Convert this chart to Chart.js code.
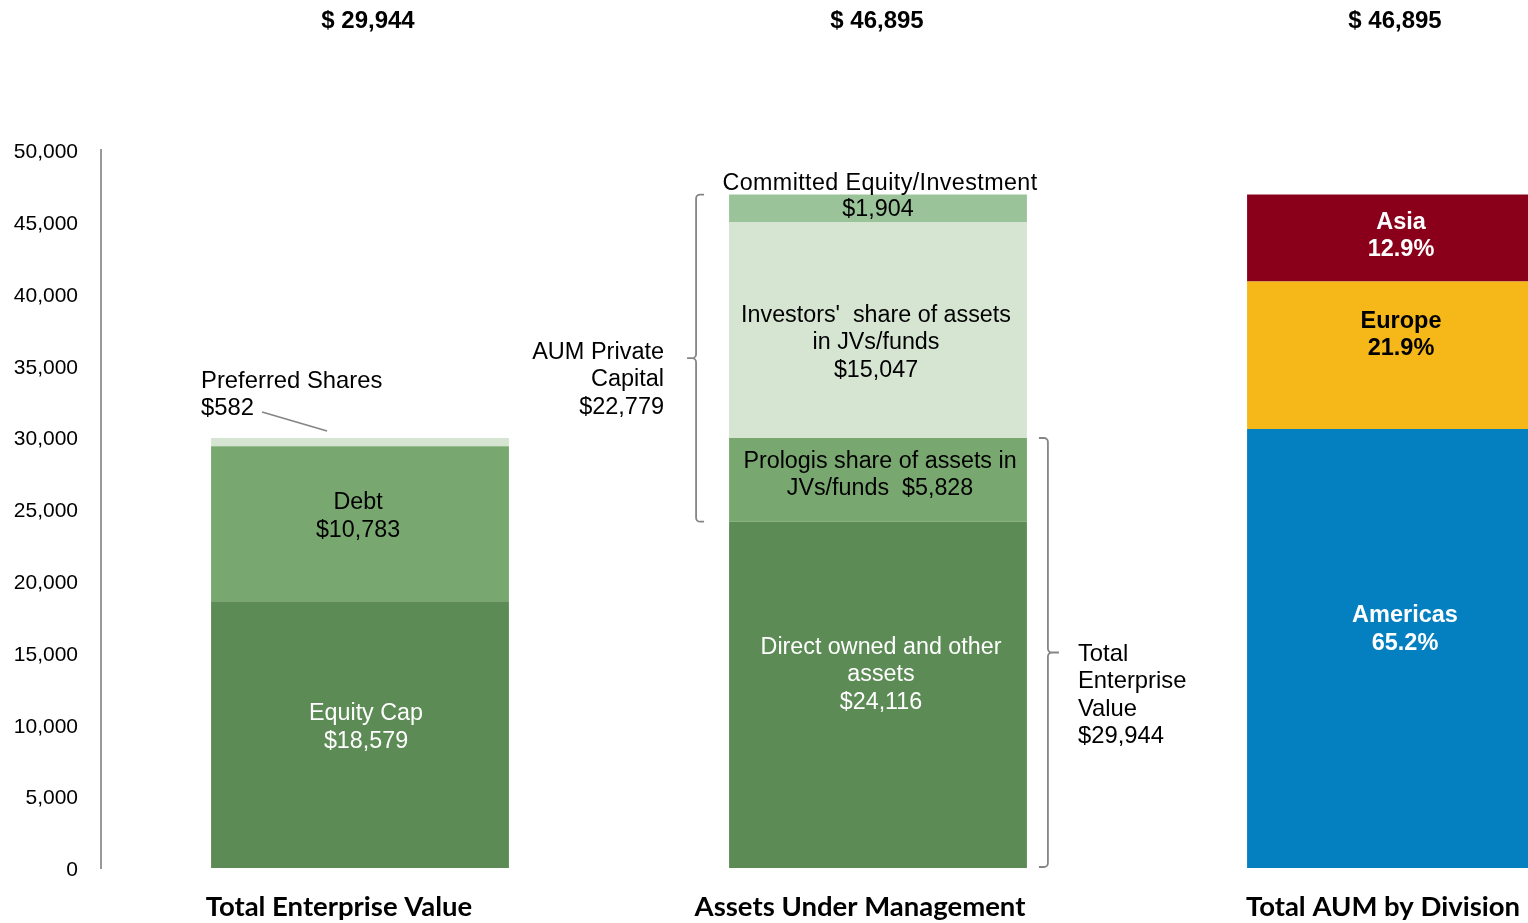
<!DOCTYPE html>
<html>
<head>
<meta charset="utf-8">
<script src="https://cdn.jsdelivr.net/npm/chart.js@4.4.1/dist/chart.umd.min.js"></script>
<style>
  html, body { margin: 0; padding: 0; background: #fff; overflow: hidden; }
  #wrap { width: 1655px; height: 923px; }
</style>
</head>
<body>
<div id="wrap"><canvas id="chart" width="1655" height="923"></canvas></div>
<script>
/* ─── Data ───────────────────────────────────────────────────────────────── */
const categories = ['Total Enterprise Value', 'Assets Under Management', 'Total AUM by Division'];

// Total Enterprise Value: Equity Cap, Debt, Preferred Shares ($M)
const tevParts  = [18579, 10783, 582];
// Assets Under Management: Direct owned, Prologis share, Investors' share, Committed
const aumParts  = [24116, 5828, 15047, 1904];
// Division split of AUM (%)
const divisionNames = ['Americas', 'Europe', 'Asia'];
const divisionPct   = [65.2, 21.9, 12.9];
const aumPrivateCapital = 22779;

const yTickMax  = 50000;
const yTickStep = 5000;

/* ─── Helpers ────────────────────────────────────────────────────────────── */
const fmt = v => '$' + Math.round(v).toLocaleString('en-US');
const sum = a => a.reduce((s, v) => s + v, 0);

const tevTotal = sum(tevParts);
const aumTotal = sum(aumParts);
const divisionValues = divisionPct.map(p => p / 100 * aumTotal);

const topTotals = [tevTotal, aumTotal, aumTotal];

/* ─── Segment labels (text) ──────────────────────────────────────────────── */
const segText = {
  '0-0': ['Equity Cap', fmt(tevParts[0])],
  '0-1': ['Debt', fmt(tevParts[1])],
  '1-0': ['Direct owned and other', 'assets', fmt(aumParts[0])],
  '1-1': ['Prologis share of assets in', 'JVs/funds  ' + fmt(aumParts[1])],
  '1-2': ["Investors'  share of assets", 'in JVs/funds', fmt(aumParts[2])],
  '1-3': [fmt(aumParts[3])],
  '2-0': [divisionNames[0], divisionPct[0].toFixed(1) + '%'],
  '2-1': [divisionNames[1], divisionPct[1].toFixed(1) + '%'],
  '2-2': [divisionNames[2], divisionPct[2].toFixed(1) + '%']
};

/* ─── Styles ─────────────────────────────────────────────────────────────── */
const FONT = '"Liberation Sans", Arial, sans-serif';
const GREEN_DARK  = '#5C8B55';
const GREEN_MID   = '#78A86F';
const GREEN_PALE  = '#D6E4D2';
const GREEN_LIGHT = '#9BC399';

const colours = [
  [GREEN_DARK, GREEN_MID, GREEN_PALE],
  [GREEN_DARK, GREEN_MID, GREEN_PALE, GREEN_LIGHT],
  ['#047FC0', '#F6B819', '#8A001B']
];

const segStyle = {
  '0-0': { color: '#fff', dx: 6,  dy: -7 },
  '0-1': { color: '#000', dx: -2, dy: -7 },
  '1-0': { color: '#fff', dx: 3,  dy: -20 },
  '1-1': { color: '#000', dx: 2,  dy: -5 },
  '1-2': { color: '#000', dx: -2, dy: 13 },
  '1-3': { color: '#000', dx: 0,  dy: 1 },
  '2-0': { color: '#fff', dx: 9,  dy: -19, bold: true },
  '2-1': { color: '#000', dx: 5,  dy: -20, bold: true },
  '2-2': { color: '#fff', dx: 5,  dy: -2,  bold: true }
};

/* ─── Datasets: one per stack level ──────────────────────────────────────── */
const levels = [0, 1, 2, 3];
const datasets = levels.map(i => ({
  label: 'level ' + i,
  data: [tevParts[i] ?? null, aumParts[i] ?? null, divisionValues[i] ?? null],
  backgroundColor: colours.map(c => c[i] ?? 'transparent'),
  borderWidth: 0,
  barPercentage: 0.575,
  categoryPercentage: 1
}));

/* ─── Annotation plugin ──────────────────────────────────────────────────── */
function bracket(ctx, x, y0, y1, dir, hook, nub) {
  // dir = +1: hooks point right, nub points left; -1 the reverse
  const r = 4;
  const mid = (y0 + y1) / 2;
  ctx.beginPath();
  ctx.moveTo(x + dir * hook, y0);
  ctx.arcTo(x, y0, x, y0 + r, r);
  ctx.lineTo(x, mid - r);
  ctx.arcTo(x, mid, x - dir * nub, mid, r);
  ctx.lineTo(x - dir * nub, mid);
  ctx.moveTo(x - dir * r, mid);
  ctx.arcTo(x, mid, x, mid + r, r);
  ctx.lineTo(x, y1 - r);
  ctx.arcTo(x, y1, x + dir * hook, y1, r);
  ctx.lineTo(x + dir * hook, y1);
  ctx.stroke();
}

const annotations = {
  id: 'annotations',
  afterDatasetsDraw(chart) {
    const { ctx } = chart;
    const y = chart.scales.y;
    const x = chart.scales.x;
    const lineH = 27.5;

    ctx.save();
    ctx.textAlign = 'center';
    ctx.textBaseline = 'middle';

    // segment labels
    chart.data.datasets.forEach((ds, i) => {
      const meta = chart.getDatasetMeta(i);
      meta.data.forEach((el, c) => {
        const key = c + '-' + i;
        const lines = segText[key];
        if (!lines || ds.data[c] == null) return;
        const st = segStyle[key];
        const cy = (el.y + el.base) / 2 + st.dy;
        ctx.fillStyle = st.color;
        ctx.font = (st.bold ? 'bold 23.5px ' : '23.3px ') + FONT;
        lines.forEach((t, k) => {
          ctx.fillText(t, el.x + st.dx, cy - (lines.length - 1) * lineH / 2 + k * lineH);
        });
      });
    });

    // totals on top
    ctx.fillStyle = '#000';
    ctx.font = 'bold 24px ' + FONT;
    const topDx = [8, -1, -1];
    topTotals.forEach((v, c) => {
      ctx.fillText('$ ' + Math.round(v).toLocaleString('en-US'), x.getPixelForValue(c) + topDx[c], 21);
    });

    // category titles under the bars
    ctx.font = 'bold 27.5px Lato, "Open Sans", sans-serif';
    const catDx = [-21, -18, -13];
    categories.forEach((t, c) => {
      ctx.fillText(t, x.getPixelForValue(c) + catDx[c], 907);
    });

    // bar geometry
    const bar0 = chart.getDatasetMeta(0).data[0];
    const bar1 = chart.getDatasetMeta(0).data[1];
    const half = bar1.width / 2;

    ctx.strokeStyle = '#858585';
    ctx.lineWidth = 1.8;
    ctx.font = '23.8px ' + FONT;
    ctx.fillStyle = '#000';

    // Preferred shares callout
    const tevTop = y.getPixelForValue(tevTotal);
    const b0left = bar0.x - bar0.width / 2;
    ctx.textAlign = 'left';
    ctx.fillText('Preferred Shares', b0left - 10, tevTop - 57);
    ctx.fillText(fmt(tevParts[2]), b0left - 10, tevTop - 30);
    ctx.beginPath();
    ctx.moveTo(b0left + 51, tevTop - 26);
    ctx.lineTo(b0left + 116, tevTop - 7);
    ctx.stroke();

    // Committed equity title above the AUM bar
    const aumTop = y.getPixelForValue(aumTotal);
    ctx.textAlign = 'center';
    ctx.font = '23.3px ' + FONT;
    ctx.letterSpacing = '0.4px';
    ctx.fillText('Committed Equity/Investment', bar1.x + 2, aumTop - 11);
    ctx.letterSpacing = '0px';

    // AUM private capital bracket (left of AUM bar)
    const b1left = bar1.x - half;
    const privBottom = y.getPixelForValue(aumTotal - aumPrivateCapital);
    bracket(ctx, b1left - 33, aumTop, privBottom, 1, 8, 9);
    ctx.textAlign = 'right';
    ctx.font = '23.5px ' + FONT;
    const privMid = (aumTop + privBottom) / 2;
    ['AUM Private', 'Capital', fmt(aumPrivateCapital)].forEach((t, k) => {
      ctx.fillText(t, b1left - 65, privMid - 6 + k * lineH);
    });

    // Total enterprise value bracket (right of AUM bar)
    const b1right = bar1.x + half;
    const tevBottom = y.getPixelForValue(0);
    bracket(ctx, b1right + 21, y.getPixelForValue(tevTotal), tevBottom - 1, -1, 9, 11);
    ctx.textAlign = 'left';
    ctx.font = '23.8px ' + FONT;
    const tevMid = (y.getPixelForValue(tevTotal) + tevBottom) / 2;
    ['Total', 'Enterprise', 'Value', fmt(tevTotal)].forEach((t, k) => {
      ctx.fillText(t, b1right + 51, tevMid + 1 + k * lineH);
    });

    ctx.restore();
  }
};

/* ─── Chart ──────────────────────────────────────────────────────────────── */
new Chart(document.getElementById('chart'), {
  type: 'bar',
  data: { labels: categories, datasets },
  options: {
    responsive: false,
    animation: false,
    layout: { padding: { top: 150, bottom: 55, left: 0, right: 0 } },
    plugins: {
      legend: { display: false },
      tooltip: { enabled: false }
    },
    scales: {
      x: {
        stacked: true,
        display: false
      },
      y: {
        stacked: true,
        min: 0,
        max: yTickMax,
        afterFit(scale) { scale.width = 101; },
        grid: { display: false, drawTicks: false },
        border: { display: true, color: '#999', width: 2 },
        ticks: {
          stepSize: yTickStep,
          padding: 23,
          labelOffset: 2.5,
          color: '#000',
          font: { family: FONT, size: 21 },
          callback: v => v.toLocaleString('en-US')
        }
      }
    }
  },
  plugins: [annotations]
});
</script>
</body>
</html>
